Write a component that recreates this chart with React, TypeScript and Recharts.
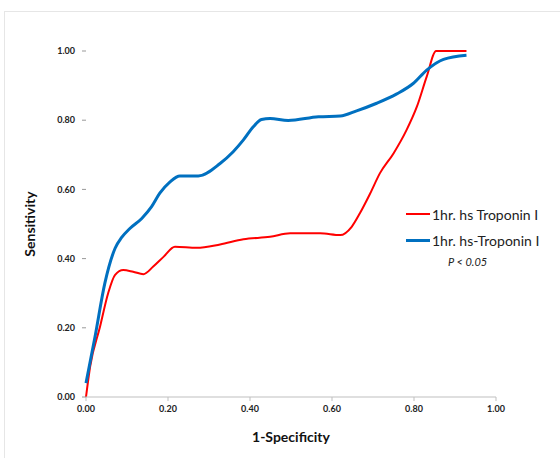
import React from "react"
import { LineChart, Line, XAxis, YAxis } from "recharts"

// ROC curve points (1-specificity, sensitivity)
const redFpr = [0, 0.01, 0.034, 0.054, 0.071, 0.091, 0.115, 0.14, 0.164, 0.189, 0.217, 0.27, 0.327, 0.384, 0.449, 0.498, 0.571, 0.62, 0.648, 0.668, 0.693, 0.717, 0.75, 0.782, 0.807, 0.831, 0.854, 0.928]
const redTpr = [0, 0.087, 0.202, 0.3, 0.353, 0.367, 0.362, 0.355, 0.377, 0.405, 0.434, 0.431, 0.441, 0.456, 0.463, 0.473, 0.473, 0.468, 0.492, 0.531, 0.588, 0.647, 0.704, 0.772, 0.839, 0.926, 1.0, 1.0]

const blueFpr = [0, 0.022, 0.046, 0.071, 0.087, 0.107, 0.136, 0.16, 0.18, 0.205, 0.229, 0.274, 0.327, 0.359, 0.384, 0.408, 0.428, 0.449, 0.493, 0.567, 0.62, 0.66, 0.709, 0.758, 0.798, 0.831, 0.872, 0.928]
const blueTpr = [0.04, 0.174, 0.329, 0.43, 0.461, 0.487, 0.516, 0.55, 0.589, 0.622, 0.639, 0.639, 0.675, 0.709, 0.743, 0.781, 0.802, 0.805, 0.799, 0.81, 0.812, 0.827, 0.849, 0.876, 0.906, 0.945, 0.976, 0.988]

const axisTicks = [0, 0.2, 0.4, 0.6, 0.8, 1.0]

const redSeries = "1hr. hs Troponin I"
const blueSeries = "1hr. hs-Troponin I"
const pText = "P < 0.05"

const toPoints = (xs: number[], ys: number[]) => xs.map((x, i) => ({ x, y: ys[i] }))

const font = "Lato, 'Open Sans', sans-serif"

function LegendBox() {
  const row = (color: string, width: number, label: string) => (
    <div style={{ display: "flex", alignItems: "center", height: 26 }}>
      <div style={{ width: 24, height: width, background: color, marginRight: 2 }} />
      <span style={{ fontSize: 14, color: "#222" }}>{label}</span>
    </div>
  )
  return (
    <div style={{ position: "absolute", left: 406, top: 201, width: 150, fontFamily: font }}>
      {row("#ff0000", 2, redSeries)}
      {row("#0070c0", 3, blueSeries)}
      <div style={{ fontSize: 11, fontStyle: "italic", color: "#222", marginLeft: 42, marginTop: 2 }}>{pText}</div>
    </div>
  )
}

export default function App() {
  const fmt = (v: number) => v.toFixed(2)
  return (
    <div style={{ position: "absolute", left: 0, top: 0, width: 560, height: 458, background: "#fff" }}>
      <div style={{ position: "absolute", left: 4, top: 11, width: 556, height: 447, borderLeft: "1px solid #e6e6e6", borderTop: "1px solid #e6e6e6" }} />
      <LineChart width={560} height={458} margin={{ top: 51, right: 64, bottom: 0, left: 0 }} style={{ position: "absolute", left: 0, top: 0 }}>
        <XAxis
          type="number"
          dataKey="x"
          domain={[0, 1]}
          ticks={axisTicks}
          tickFormatter={fmt}
          height={61}
          stroke="#bfbfbf"
          tickSize={4}
          tickMargin={5}
          tick={{ fill: "#222", fontSize: 9, fontWeight: 700, fontFamily: font }}
          label={{ value: "1-Specificity", position: "insideBottom", offset: 16, style: { fill: "#111", fontSize: 14, fontWeight: 700, fontFamily: font } }}
        />
        <YAxis
          type="number"
          dataKey="y"
          domain={[0, 1]}
          ticks={axisTicks}
          tickFormatter={fmt}
          width={86}
          axisLine={false}
          tickLine={{ stroke: "#999" }}
          tickSize={4}
          tickMargin={7}
          tick={{ fill: "#222", fontSize: 9, fontWeight: 700, fontFamily: font }}
          label={{ value: "Sensitivity", angle: -90, position: "insideLeft", offset: 30, style: { fill: "#111", fontSize: 14, fontWeight: 700, fontFamily: font, textAnchor: "middle" } }}
        />
        <Line data={toPoints(redFpr, redTpr)} dataKey="y" name={redSeries} type="monotone" stroke="#ff0000" strokeWidth={2} dot={false} isAnimationActive={false} />
        <Line data={toPoints(blueFpr, blueTpr)} dataKey="y" name={blueSeries} type="monotone" stroke="#0070c0" strokeWidth={3} dot={false} isAnimationActive={false} />
      </LineChart>
      <LegendBox />
    </div>
  )
}
